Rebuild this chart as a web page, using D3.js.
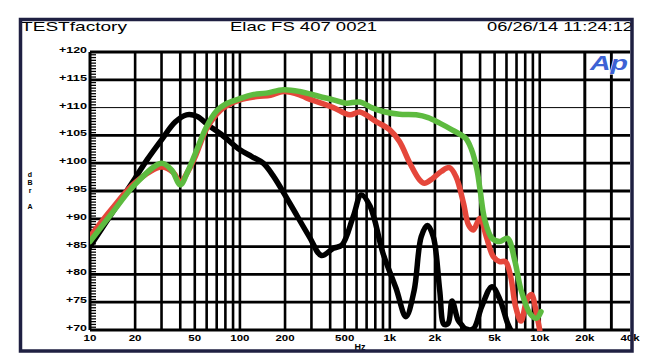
<!DOCTYPE html>
<html>
<head>
<meta charset="utf-8">
<script src="https://cdn.jsdelivr.net/npm/d3@7"></script>
<style>
  body { margin: 0; background: #fff; }
  svg { display: block; font-family: "Liberation Sans", Arial, sans-serif; }
</style>
</head>
<body>
<svg id="chart"></svg>
<script>
// Header texts
const titleLeft = "TESTfactory";
const titleMid = "Elac FS 407 0021";
const titleRight = "06/26/14 11:24:12";

// Axis ticks
const yTicks = [70, 75, 80, 85, 90, 95, 100, 105, 110, 115, 120];
const xLabelValues = [10, 20, 50, 100, 200, 500, 1000, 2000, 5000, 10000, 20000, 40000];
const xLabelTexts = ["10", "20", "50", "100", "200", "500", "1k", "2k", "5k", "10k", "20k", "40k"];

// Measured curves (Hz, dBr A)
const blackFreq = [10, 14, 20, 24, 30, 37, 44, 52, 61, 75, 100, 120, 143, 166, 215, 290, 350, 420, 480, 570, 645, 740, 900, 1100, 1280, 1450, 1620, 1780, 1950, 2150, 2300, 2450, 2600, 2850, 3000, 3200, 3600, 4100, 4800, 5400, 6100, 6400];
const blackDb = [85, 91, 97.3, 100.6, 104.2, 107.4, 108.7, 108.4, 106.9, 105.2, 102.4, 101.2, 100, 97.8, 92.8, 86.8, 83.4, 84.7, 85.3, 90.4, 94.3, 92.2, 83.8, 77.5, 72.4, 77, 86.8, 88.8, 86.8, 77.2, 71, 71.2, 75.2, 71.8, 71, 70.2, 70.2, 74.2, 77.8, 75.6, 71.2, 70];

const redFreq = [10, 14, 20, 30, 36, 40, 45, 50, 60, 70, 80, 100, 130, 160, 195, 250, 280, 340, 420, 540, 630, 820, 1000, 1160, 1360, 1580, 1700, 1940, 2200, 2500, 2760, 3100, 3350, 3600, 4000, 4400, 4900, 5400, 5900, 6400, 6900, 7500, 8200, 8800, 9500, 10000];
const redDb = [86.8, 91.8, 96.5, 99.3, 98.3, 96.6, 98.5, 101, 106.2, 108.8, 110.2, 111.4, 112, 112.2, 112.9, 112.3, 111.7, 110.9, 110, 108.7, 109.2, 107.4, 106, 103.9, 100, 97, 96.4, 97.3, 98.5, 99.2, 97.6, 92.8, 88.9, 88, 90.1, 86.8, 83.2, 82.3, 82.3, 79.6, 74.2, 71.6, 75.4, 76.4, 73, 70];

const greenFreq = [10, 14, 20, 30, 35, 40, 45, 50, 60, 70, 80, 100, 120, 150, 195, 250, 340, 420, 510, 630, 770, 900, 1160, 1500, 1800, 2150, 2600, 3200, 3500, 3800, 4000, 4300, 4800, 5400, 6100, 6800, 7500, 8600, 9500, 10200];
const greenDb = [85.9, 91, 96.2, 100, 98.8, 96.1, 98.6, 101.5, 106.6, 109.4, 110.6, 111.6, 112.3, 112.6, 113.2, 112.9, 112, 111.4, 110.8, 111, 109.9, 109.3, 108.8, 108.7, 108.2, 107.2, 106, 104.5, 102.5, 99, 95.2, 89.8, 86.5, 85.9, 86.5, 82.6, 77.2, 73, 72.1, 73.3];

const W = 646, H = 363;
const plot = { left: 90, right: 630, top: 52, bottom: 330 };

const svg = d3.select("#chart").attr("width", W).attr("height", H);

// Scales
const x = d3.scaleLog().domain([10, 40000]).range([plot.left, plot.right]);
const y = d3.scaleLinear().domain([70, 120]).range([plot.bottom, plot.top]);

// Header
const header = [
  { t: titleLeft, x0: 21, len: 106 },
  { t: titleMid, x0: 230, len: 147 },
  { t: titleRight, x0: 487, len: 146 },
];
svg.selectAll(".hdr")
  .data(header)
  .enter()
  .append("text")
  .attr("x", (d) => d.x0)
  .attr("y", 31)
  .attr("font-size", 13.5)
  .attr("textLength", (d) => d.len)
  .attr("lengthAdjust", "spacingAndGlyphs")
  .attr("fill", "#000")
  .text((d) => d.t);

// Vertical grid: 1..9 per decade
const xGrid = [];
for (let dec = 10; dec <= 10000; dec *= 10) {
  for (let m = 1; m <= 9; m++) {
    const f = dec * m;
    if (f > 10 && f < 40000) xGrid.push(f);
  }
}
xGrid.push(20000, 30000);

svg.append("g")
  .selectAll("line")
  .data(xGrid)
  .enter()
  .append("line")
  .attr("x1", (d) => x(d))
  .attr("x2", (d) => x(d))
  .attr("y1", plot.top)
  .attr("y2", plot.bottom)
  .attr("stroke", "#000")
  .attr("stroke-width", 2.6);

// Horizontal grid
svg.append("g")
  .selectAll("line")
  .data(yTicks)
  .enter()
  .append("line")
  .attr("x1", plot.left)
  .attr("x2", plot.right)
  .attr("y1", (d) => y(d))
  .attr("y2", (d) => y(d))
  .attr("stroke", "#000")
  .attr("stroke-width", (d) => (d === 110 ? 1 : 2.8));

// Left axis with dense minor ticks
svg.append("line")
  .attr("x1", plot.left).attr("x2", plot.left)
  .attr("y1", plot.top).attr("y2", plot.bottom)
  .attr("stroke", "#000").attr("stroke-width", 3);

svg.append("g")
  .selectAll("line")
  .data(d3.range(70, 120.01, 0.5))
  .enter()
  .append("line")
  .attr("x1", plot.left)
  .attr("x2", plot.left + 6)
  .attr("y1", (d) => y(d))
  .attr("y2", (d) => y(d))
  .attr("stroke", "#000")
  .attr("stroke-width", 1.3);

// Y labels
svg.append("g")
  .selectAll("text")
  .data(yTicks)
  .enter()
  .append("text")
  .attr("x", 87)
  .attr("y", (d) => y(d) + 1)
  .attr("text-anchor", "end")
  .attr("font-size", 9.5)
  .attr("font-weight", "bold")
  .attr("textLength", (d) => ("+" + d).length * 7)
  .attr("lengthAdjust", "spacingAndGlyphs")
  .text((d) => "+" + d);

// X labels
svg.append("g")
  .selectAll("text")
  .data(xLabelValues)
  .enter()
  .append("text")
  .attr("x", (d) => x(d))
  .attr("y", 341)
  .attr("text-anchor", "middle")
  .attr("font-size", 9)
  .attr("font-weight", "bold")
  .attr("textLength", (d, i) => xLabelTexts[i].length * 6.4)
  .attr("lengthAdjust", "spacingAndGlyphs")
  .text((d, i) => xLabelTexts[i]);

// Axis titles
svg.append("text")
  .attr("x", 360).attr("y", 350)
  .attr("text-anchor", "middle")
  .attr("font-size", 9).attr("font-weight", "bold")
  .text("Hz");

// stacked unit label "dBr A"
const unitLetters = [["d", 177], ["B", 185.2], ["r", 193.4], ["A", 209]];
svg.selectAll(".unit")
  .data(unitLetters)
  .enter()
  .append("text")
  .attr("x", 30)
  .attr("y", (d) => d[1])
  .attr("text-anchor", "middle")
  .attr("font-size", 7)
  .attr("font-weight", "bold")
  .text((d) => d[0]);

// Clip for curves
svg.append("clipPath").attr("id", "clip")
  .append("rect")
  .attr("x", plot.left).attr("y", plot.top)
  .attr("width", plot.right - plot.left)
  .attr("height", plot.bottom - plot.top + 1);

const line = d3.line()
  .x((d) => x(d[0]))
  .y((d) => y(d[1]))
  .curve(d3.curveCatmullRom.alpha(0.5));

const series = [
  { f: blackFreq, v: blackDb, color: "#000000" },
  { f: redFreq, v: redDb, color: "#e5473b" },
  { f: greenFreq, v: greenDb, color: "#5dbb3f" },
];

svg.append("g")
  .attr("clip-path", "url(#clip)")
  .selectAll("path")
  .data(series)
  .enter()
  .append("path")
  .attr("d", (s) => line(s.f.map((f, i) => [f, s.v[i]])))
  .attr("fill", "none")
  .attr("stroke", (s) => s.color)
  .attr("stroke-width", 5.5)
  .attr("stroke-linejoin", "round")
  .attr("stroke-linecap", "round");

// Ap logo
svg.append("text")
  .attr("x", 590).attr("y", 70)
  .attr("font-size", 21)
  .attr("font-weight", "bold")
  .attr("font-style", "italic")
  .attr("fill", "#3d62d4")
  .attr("stroke", "#fff")
  .attr("stroke-width", 1)
  .attr("paint-order", "stroke")
  .attr("textLength", 38)
  .attr("lengthAdjust", "spacingAndGlyphs")
  .text("Ap");

// Frame
svg.append("rect")
  .attr("x", 20.5).attr("y", 19.5)
  .attr("width", 611.5).attr("height", 331.5)
  .attr("fill", "none")
  .attr("stroke", "#1f2042")
  .attr("stroke-width", 3.5);
</script>
</body>
</html>
